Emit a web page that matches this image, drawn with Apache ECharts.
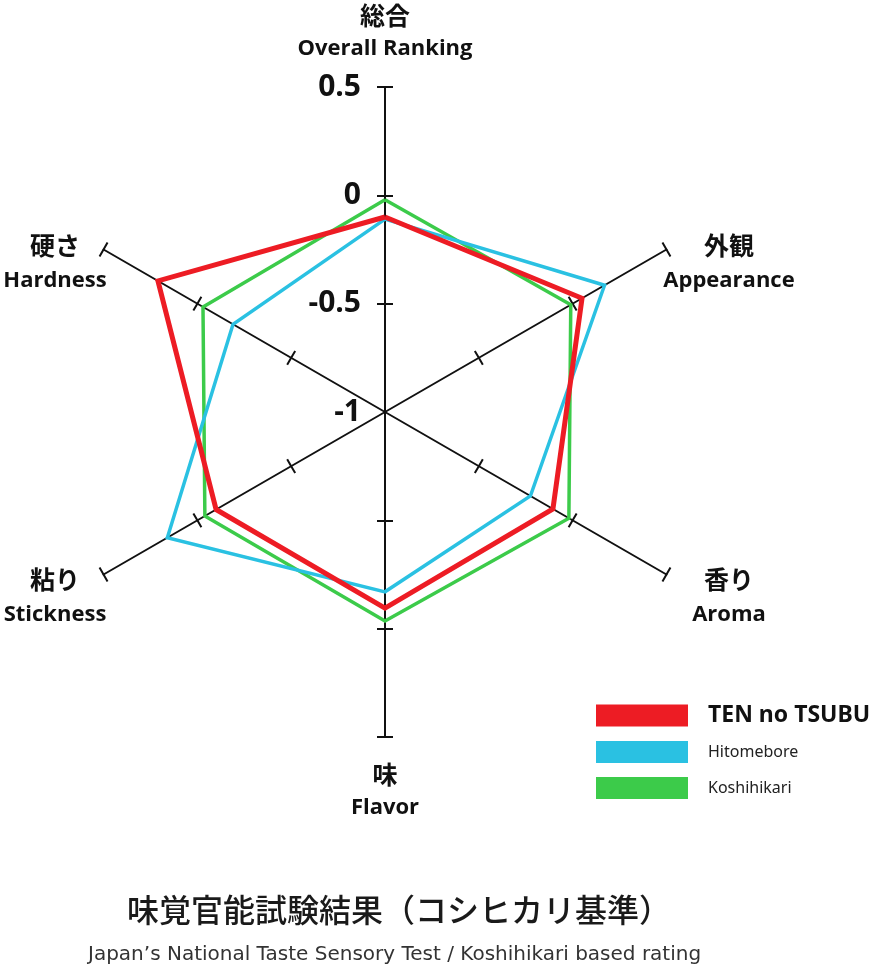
<!DOCTYPE html>
<html>
<head>
<meta charset="utf-8">
<script src="https://cdn.jsdelivr.net/npm/echarts@6/dist/echarts.min.js"></script>
<style>html,body{margin:0;padding:0;background:#fff}#c{width:874px;height:972px}</style>
</head>
<body>
<div id="c"></div>
<script>
// Axes, counter-clockwise from the top (ECharts radar order)
const axisNamesJa = ['総合', '硬さ', '粘り', '味', '香り', '外観'];
const axisNamesEn = ['Overall Ranking', 'Hardness', 'Stickness', 'Flavor', 'Aroma', 'Appearance'];
const axisMin = -1;
const axisMax = 0.5;
const tickValues = [-0.5, 0, 0.5];

const seriesNames = ['TEN no TSUBU', 'Hitomebore', 'Koshihikari'];
const tenNoTsubu = [-0.10, 0.21, -0.10, -0.095, -0.105, 0.05];
const hitomebore = [-0.11, -0.19, 0.16, -0.17, -0.225, 0.17];
const koshihikari = [-0.02, -0.03, -0.04, -0.035, -0.02, -0.01];

const colors = { 'TEN no TSUBU': '#ED1C24', 'Hitomebore': '#2AC1E2', 'Koshihikari': '#3CCB4A' };
const widths = { 'TEN no TSUBU': 5, 'Hitomebore': 3.5, 'Koshihikari': 3.5 };

const chart = echarts.init(document.getElementById('c'), null, { renderer: 'canvas' });

const indicators = axisNamesJa.map((n, i) => {
  const o = { name: n, min: axisMin, max: axisMax };
  if (i === 0) {
    o.axisLabel = { show: true };
    o.nameGap = 21;
    o.nameMoveOverlap = false;
  }
  return o;
});
const indicators2 = axisNamesJa.map(n => ({ name: n, min: axisMin, max: axisMax }));

const posOf = i => ['top', 'side', 'side', 'bottom', 'side', 'side'][i];
const upper = i => (i === 1 || i === 5);

function nameFormatter(value) {
  const i = axisNamesJa.indexOf(value);
  const en = axisNamesEn[i];
  const p = posOf(i);
  if (p === 'top') return '{jp|' + value + '}\n{en|' + en + '}';
  if (p === 'bottom') return '{spB| }\n{jp|' + value + '}\n{en|' + en + '}';
  const side = (i === 1 || i === 2) ? 'L' : 'R';
  const sp = upper(i) ? 'spU' : 'spD';
  return '{' + sp + '| }\n{jp' + side + '|' + value + '}\n{en' + side + '|' + en + '}';
}

const jpBase = { fontFamily: 'Noto Sans CJK JP', fontWeight: 'bold', fontSize: 25, lineHeight: 32, color: '#111', align: 'center' };
const enBase = { fontFamily: 'Open Sans', fontWeight: 'bold', fontSize: 22, lineHeight: 35, color: '#111', align: 'center' };

const series = [
  { name: 'Koshihikari', values: koshihikari },
  { name: 'Hitomebore', values: hitomebore },
  { name: 'TEN no TSUBU', values: tenNoTsubu }
].map(s => ({
  name: s.name,
  value: s.values,
  symbol: 'none',
  itemStyle: { color: colors[s.name] },
  lineStyle: { color: colors[s.name], width: widths[s.name], join: 'miter' }
}));

chart.setOption({
  animation: false,
  backgroundColor: '#fff',
  title: [
    { text: '味覚官能試験結果（コシヒカリ基準）', left: 127, top: 894, padding: 0,
      textStyle: { fontFamily: 'Noto Sans CJK JP', fontWeight: 500, fontSize: 32, color: '#1a1a1a' } },
    { text: 'Japan\u2019s National Taste Sensory Test / Koshihikari based rating', left: 88, top: 945, padding: 0,
      textStyle: { fontFamily: 'DejaVu Sans', fontWeight: 'normal', fontSize: 20, color: '#333' } }
  ],
  legend: {
    orient: 'vertical', left: 596, top: 704, padding: 0, itemWidth: 92, itemHeight: 22, itemGap: 14,
    icon: 'rect', data: seriesNames,
    formatter: n => n === 'TEN no TSUBU' ? '{b|' + n + '}' : '{n|' + n + '}',
    textStyle: {
      rich: {
        b: { fontFamily: 'Noto Sans', fontWeight: 'bold', fontSize: 23, color: '#111', padding: [0, 0, 0, 15] },
        n: { fontFamily: 'Noto Sans', fontWeight: 'normal', fontSize: 16, color: '#222', padding: [0, 0, 0, 15] }
      }
    }
  },
  radar: [
    {
      center: [385, 412], radius: 325, startAngle: 90, splitNumber: 3, shape: 'polygon',
      indicator: indicators,
      nameGap: -14.4,
      axisName: {
        formatter: nameFormatter,
        rich: {
          jp: jpBase, en: enBase,
          jpL: Object.assign({}, jpBase, { width: 122, lineHeight: 36 }), enL: Object.assign({}, enBase, { width: 122 }),
          jpR: Object.assign({}, jpBase, { width: 150, lineHeight: 36 }), enR: Object.assign({}, enBase, { width: 150 }),
          spB: { lineHeight: 36, fontSize: 10 },
          spU: { lineHeight: 13, fontSize: 10 }, spD: { lineHeight: 59, fontSize: 10 }
        }
      },
      axisLine: { show: true, lineStyle: { color: '#111', width: 2 } },
      axisTick: { show: true, length: 8, customValues: tickValues, lineStyle: { color: '#111', width: 2 } },
      axisLabel: { show: false, margin: 24, fontFamily: 'Open Sans', fontWeight: 'bold', fontSize: 30, color: '#111' },
      splitLine: { show: false },
      splitArea: { show: false }
    },
    {
      center: [385, 412], radius: 325, startAngle: 90, splitNumber: 3, shape: 'polygon',
      indicator: indicators2,
      axisName: { show: false },
      axisLine: { show: false },
      axisTick: { show: true, length: -8, customValues: tickValues, lineStyle: { color: '#111', width: 2 } },
      axisLabel: { show: false },
      splitLine: { show: false },
      splitArea: { show: false }
    }
  ],
  series: [{
    type: 'radar',
    radarIndex: 0,
    symbol: 'none',
    data: series
  }]
});
</script>
</body>
</html>
